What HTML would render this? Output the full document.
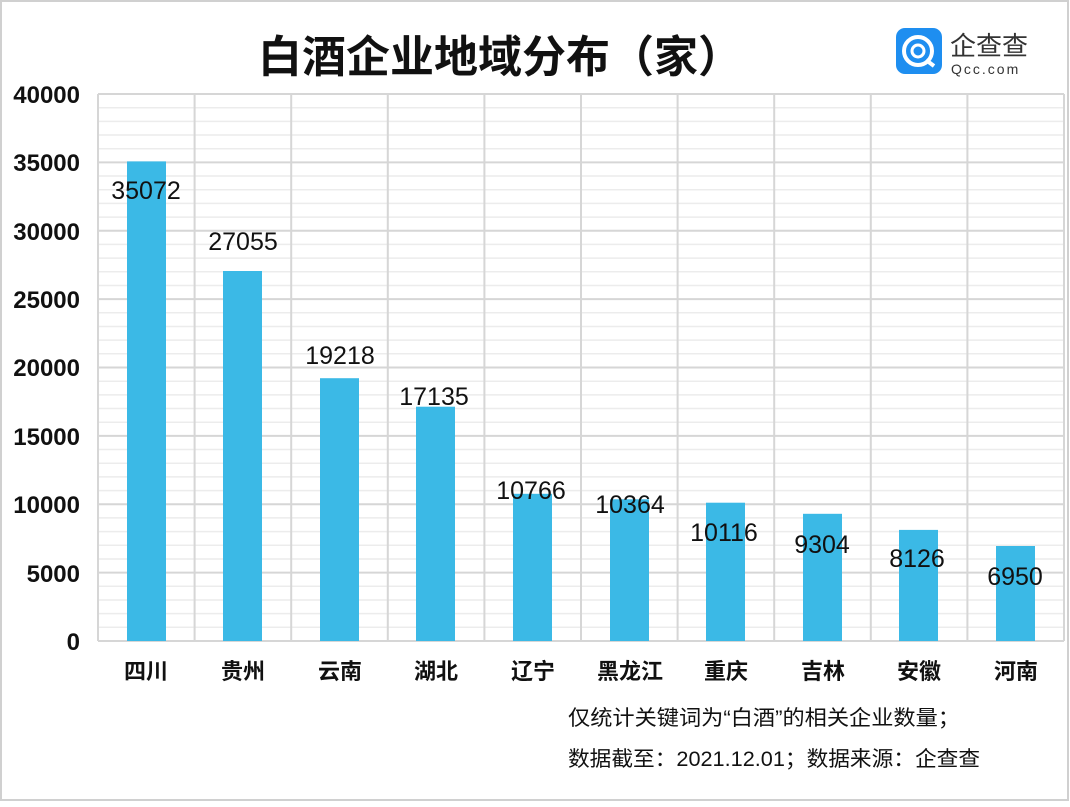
<!DOCTYPE html>
<html><head><meta charset="utf-8"><style>
body{margin:0;width:1070px;height:802px;background:#fff;overflow:hidden}
svg text{font-family:"Liberation Sans","Noto Sans CJK SC",sans-serif}
</style></head><body>
<svg width="1070" height="802" xmlns="http://www.w3.org/2000/svg">
<rect x="1" y="1" width="1067" height="799" fill="#fff" stroke="#d0d0d0" stroke-width="2"/>
<text x="500" y="72" font-size="44" font-weight="bold" text-anchor="middle" fill="#111">白酒企业地域分布（家）</text>
<rect x="896" y="28" width="46" height="46" rx="9" fill="#1e8ef0"/>
<circle cx="918" cy="51" r="14" fill="none" stroke="#fff" stroke-width="4"/>
<circle cx="918" cy="51" r="6" fill="none" stroke="#fff" stroke-width="3"/>
<line x1="926" y1="60" x2="934" y2="66" stroke="#fff" stroke-width="4"/>
<text x="950" y="55" font-size="26" fill="#333">企查查</text>
<text x="951" y="74" font-size="14" fill="#333" letter-spacing="2">Qcc.com</text>
<path stroke="#ececec" stroke-width="1.5" fill="none" d="M98 627.3H1064M98 613.65H1064M98 599.98H1064M98 586.3H1064M98 558.95H1064M98 545.3H1064M98 531.6H1064M98 517.9H1064M98 490.6H1064M98 476.9H1064M98 463.2H1064M98 449.55H1064M98 422.2H1064M98 408.5H1064M98 394.85H1064M98 381.2H1064M98 353.8H1064M98 340.15H1064M98 326.5H1064M98 312.8H1064M98 285.45H1064M98 271.8H1064M98 258.1H1064M98 244.4H1064M98 217.1H1064M98 203.4H1064M98 189.7H1064M98 176.05H1064M98 148.7H1064M98 135H1064M98 121.35H1064M98 107.7H1064"/>
<path stroke="#d6d6d6" stroke-width="2" fill="none" d="M98 641H1064M98 572.6H1064M98 504.25H1064M98 435.9H1064M98 367.5H1064M98 299.1H1064M98 230.75H1064M98 162.4H1064M98 94H1064M98 94V641M194.6 94V641M291.2 94V641M387.8 94V641M484.4 94V641M581 94V641M677.6 94V641M774.2 94V641M870.8 94V641M967.4 94V641M1064 94V641"/>
<g font-size="24" font-weight="bold" text-anchor="end" fill="#111">
<text x="80" y="103">40000</text><text x="80" y="171">35000</text><text x="80" y="240">30000</text><text x="80" y="308">25000</text><text x="80" y="376">20000</text><text x="80" y="445">15000</text><text x="80" y="513">10000</text><text x="80" y="582">5000</text><text x="80" y="650">0</text>
</g>
<g fill="#3bb9e6">
<rect x="127" y="161.4" width="39" height="479.6"/>
<rect x="223" y="271" width="39" height="370"/>
<rect x="320" y="378.2" width="39" height="262.8"/>
<rect x="416" y="406.7" width="39" height="234.3"/>
<rect x="513" y="493.8" width="39" height="147.2"/>
<rect x="610" y="499.3" width="39" height="141.7"/>
<rect x="706" y="502.7" width="39" height="138.3"/>
<rect x="803" y="513.8" width="39" height="127.2"/>
<rect x="899" y="529.9" width="39" height="111.1"/>
<rect x="996" y="546" width="39" height="95"/>
</g>
<g font-size="25" text-anchor="middle" fill="#111">
<text x="146" y="199">35072</text><text x="243" y="250">27055</text><text x="340" y="364">19218</text><text x="434" y="405">17135</text><text x="531" y="499">10766</text><text x="630" y="513">10364</text><text x="724" y="541">10116</text><text x="822" y="553">9304</text><text x="917" y="567">8126</text><text x="1015" y="585">6950</text>
</g>
<g font-size="22" font-weight="bold" text-anchor="middle" fill="#111">
<text x="146" y="679">四川</text><text x="243" y="679">贵州</text><text x="340" y="679">云南</text><text x="436" y="679">湖北</text><text x="533" y="679">辽宁</text><text x="630" y="679">黑龙江</text><text x="726" y="679">重庆</text><text x="823" y="679">吉林</text><text x="919" y="679">安徽</text><text x="1016" y="679">河南</text>
</g>
<text x="568" y="725" font-size="21" fill="#111" textLength="392" lengthAdjust="spacingAndGlyphs">仅统计关键词为“白酒”的相关企业数量；</text>
<text x="568" y="766" font-size="21" fill="#111" textLength="412" lengthAdjust="spacingAndGlyphs">数据截至：2021.12.01；数据来源：企查查</text>
</svg>
</body></html>
